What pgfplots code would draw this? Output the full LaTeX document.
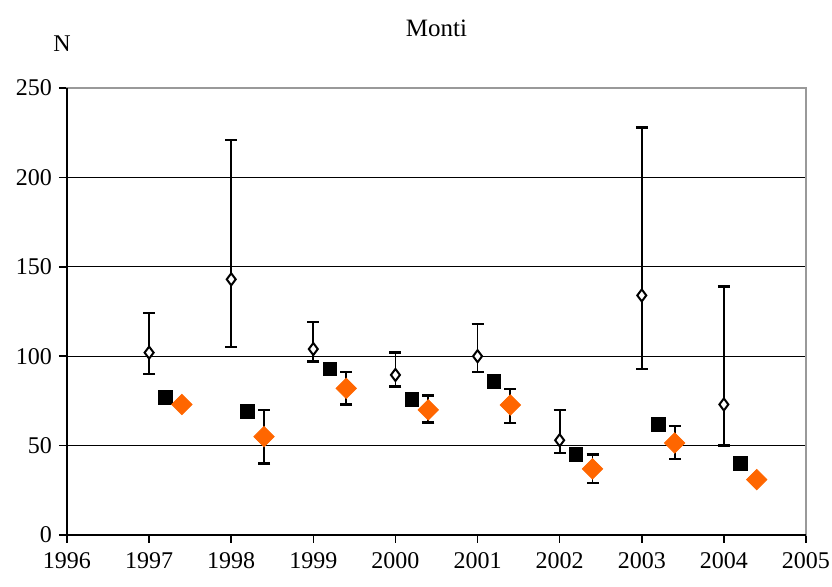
\documentclass[border=0pt]{standalone}
\usepackage{pgfplots}
\pgfplotsset{compat=1.18}
\usepackage{fontspec}
\setmainfont{Liberation Serif}
\definecolor{orng}{HTML}{FF6600}
\begin{document}
\begin{tikzpicture}
\path[use as bounding box] (-33.5pt,-26pt) rectangle (382.5pt,267.5pt);
\begin{axis}[
  scale only axis, width=369.5pt, height=223.5pt,
  at={(0,0)}, anchor=south west,
  xmin=0, xmax=9, ymin=0, ymax=250,
  xtick={0,...,9}, xticklabels={1996,1997,1998,1999,2000,2001,2002,2003,2004,2005},
  ytick={0,50,...,250},
  x tick label style={anchor=base, yshift=-13pt},
  /pgf/number format/assume math mode=true,
  tick label style={font=\fontsize{12}{12}\selectfont},
  tick align=outside, xtick pos=bottom, ytick pos=left,
  major tick length=4pt, tick style={black, line width=0.8pt},
  ymajorgrids, grid style={black, line width=0.5pt},
  axis line style={gray!80, line width=1pt},
  clip=false,
  title={Monti}, title style={font=\fontsize{12.5}{12.5}\selectfont, at={(0.5,1)}, yshift=16pt},
  after end axis/.code={\draw[black, line width=0.8pt] (rel axis cs:0,1) -- (rel axis cs:0,0) -- (rel axis cs:1,0);
    \node[font=\fontsize{12}{12}\selectfont] at (rel axis cs:0,1) [xshift=-2.5pt, yshift=22pt] {N};},
]
% x = year - 1996
\addplot[only marks, mark=diamond*, mark options={fill=white, draw=black, line width=1pt}, mark size=3pt,
  error bars/.cd, y dir=both, y explicit, error bar style={black, line width=0.9pt}, error mark options={rotate=90, mark size=3pt, line width=1.2pt}]
  table[x=x, y=y, y error plus=ep, y error minus=em] {
  x y ep em
  1 102 22 12
  2 143 78 38
  3 104 15 7
  4 89.5 12.5 6.5
  5 100 18 9
  6 53 17 7
  7 134 94 41
  8 73 66 23
};
\addplot[only marks, mark=square*, mark options={fill=black, draw=black}, mark size=3.4pt] coordinates {
  (1.2,77) (2.2,69) (3.2,93) (4.2,76) (5.2,86) (6.2,45) (7.2,62) (8.2,40)
};
\addplot[only marks, mark=square*, mark options={fill=orng, draw=orng, rotate=45}, mark size=3.6pt,
  error bars/.cd, y dir=both, y explicit, error bar style={black, line width=0.9pt}, error mark options={rotate=90, mark size=3pt, line width=1.2pt}]
  table[x=x, y=y, y error plus=ep, y error minus=em] {
  x y ep em
  1.4 73 0 0
  2.4 55 15 15
  3.4 82 9 9
  4.4 70 8 7
  5.4 72.7 9 10
  6.4 37 8 8
  7.4 51.5 9.5 9
  8.4 31 0 0
};
\end{axis}
\end{tikzpicture}
\end{document}
